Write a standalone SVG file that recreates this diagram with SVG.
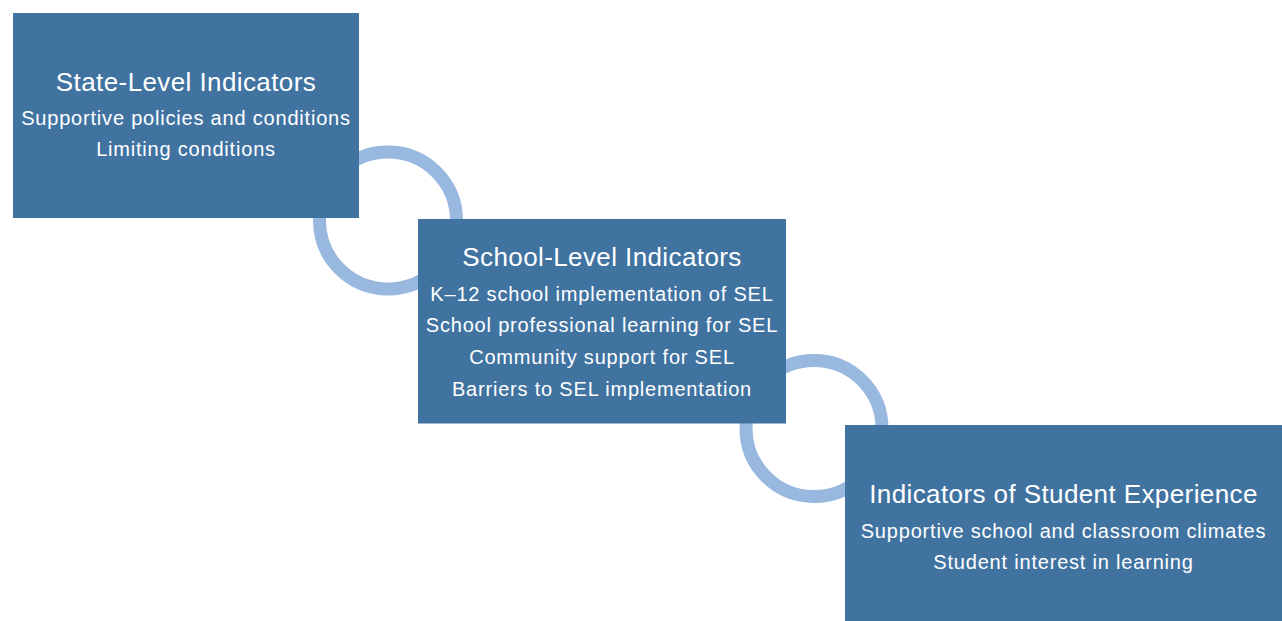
<svg xmlns="http://www.w3.org/2000/svg" width="1282" height="621" viewBox="0 0 1282 621">
  <style>
    .box { fill: #4173A1; }
    .ring { fill: none; stroke: #98B8E0; stroke-width: 13; }
    text { font-family: "Liberation Sans", Arial, sans-serif; fill: #FFFFFF; text-anchor: middle; }
    .title { font-size: 26px; letter-spacing: 0.4px; }
    .item { font-size: 20px; letter-spacing: 0.8px; }
  </style>
  <rect width="1282" height="621" fill="#FFFFFF"/>
  <!-- linking rings between the levels -->
  <g id="connectors">
    <circle class="ring" cx="388" cy="220.5" r="68.5"/>
    <circle class="ring" cx="814" cy="428.5" r="68"/>
  </g>
  <g id="state-level">
    <rect class="box" x="13" y="13" width="346" height="205"/>
    <text class="title" x="186" y="90.5">State-Level Indicators</text>
    <text class="item" x="186" y="124.5">Supportive policies and conditions</text>
    <text class="item" x="186" y="156">Limiting conditions</text>
  </g>
  <g id="school-level">
    <rect class="box" x="418" y="219" width="368" height="204.5"/>
    <text class="title" x="602" y="265.5">School-Level Indicators</text>
    <text class="item" x="602" y="300.5">K–12 school implementation of SEL</text>
    <text class="item" x="602" y="332">School professional learning for SEL</text>
    <text class="item" x="602" y="364">Community support for SEL</text>
    <text class="item" x="602" y="396">Barriers to SEL implementation</text>
  </g>
  <g id="student-experience">
    <rect class="box" x="845" y="425" width="437" height="196"/>
    <text class="title" x="1063.5" y="502.5">Indicators of Student Experience</text>
    <text class="item" x="1063.5" y="537.5">Supportive school and classroom climates</text>
    <text class="item" x="1063.5" y="569">Student interest in learning</text>
  </g>
</svg>
